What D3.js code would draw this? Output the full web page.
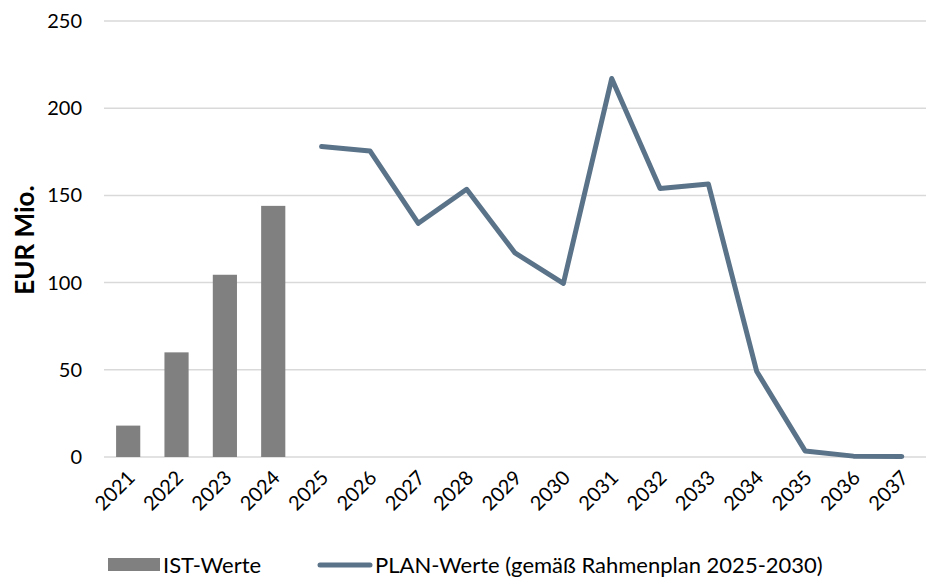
<!DOCTYPE html>
<html>
<head>
<meta charset="utf-8">
<script src="https://cdn.jsdelivr.net/npm/d3@7"></script>
<style>
  body { margin: 0; background: #fff; }
  svg { font-family: "Gill Sans", "Lato", sans-serif; }
</style>
</head>
<body>
<svg id="chart" width="933" height="579"></svg>
<script>
const years = ["2021","2022","2023","2024","2025","2026","2027","2028","2029","2030","2031","2032","2033","2034","2035","2036","2037"];
const istYears = ["2021","2022","2023","2024"];
const istValues = [18, 60, 104.5, 144];
const planYears = ["2025","2026","2027","2028","2029","2030","2031","2032","2033","2034","2035","2036","2037"];
const planValues = [178, 175.5, 134, 153.5, 117, 99.5, 217, 154, 156.5, 49, 3.5, 0.5, 0.3];
const yTicks = [0, 50, 100, 150, 200, 250];

const svg = d3.select("#chart");
const margin = { top: 21, right: 7, bottom: 122, left: 104 };
const width = 933 - margin.left - margin.right;
const height = 579 - margin.top - margin.bottom;

const g = svg.append("g").attr("transform", `translate(${margin.left},${margin.top})`);

const x = d3.scaleBand().domain(years).range([0, width]).paddingInner(0.5).paddingOuter(0.25);
const y = d3.scaleLinear().domain([0, 250]).range([height, 0]);

// gridlines
g.selectAll(".grid").data(yTicks).enter().append("line")
  .attr("x1", 0).attr("x2", width)
  .attr("y1", d => y(d)).attr("y2", d => y(d))
  .attr("stroke", "#d9d9d9").attr("stroke-width", 1.5);

// y axis labels
g.selectAll(".ylab").data(yTicks).enter().append("text")
  .attr("x", -22).attr("y", d => y(d)).attr("dy", "0.35em")
  .attr("text-anchor", "end").attr("font-size", 20).attr("fill", "#000")
  .text(d => d);

// x axis labels
g.selectAll(".xlab").data(years).enter().append("text")
  .attr("transform", d => `translate(${x(d) + x.bandwidth() / 2 + 8},${height + 22}) rotate(-45)`)
  .attr("text-anchor", "end").attr("font-size", 20).attr("fill", "#000")
  .text(d => d);

// bars
g.selectAll(".bar").data(istYears).enter().append("rect")
  .attr("x", d => x(d)).attr("width", x.bandwidth())
  .attr("y", (d, i) => y(istValues[i]))
  .attr("height", (d, i) => height - y(istValues[i]))
  .attr("fill", "#808080");

// line
const line = d3.line()
  .x((d, i) => x(planYears[i]) + x.bandwidth() / 2)
  .y(d => y(d));
g.append("path").datum(planValues)
  .attr("d", line).attr("fill", "none")
  .attr("stroke", "#5a7389").attr("stroke-width", 5)
  .attr("stroke-linejoin", "round").attr("stroke-linecap", "round");

// y title
svg.append("text")
  .attr("transform", `translate(34,240) rotate(-90)`)
  .attr("text-anchor", "middle").attr("font-size", 26).attr("font-weight", "bold")
  .text("EUR Mio.");

// legend
const ly = 565;
svg.append("rect").attr("x", 108).attr("y", ly - 7).attr("width", 52).attr("height", 13).attr("fill", "#808080");
svg.append("text").attr("x", 163).attr("y", ly).attr("dy", "0.35em").attr("font-size", 22).text("IST-Werte");
svg.append("line").attr("x1", 320).attr("x2", 370).attr("y1", ly).attr("y2", ly)
  .attr("stroke", "#5a7389").attr("stroke-width", 5).attr("stroke-linecap", "round");
svg.append("text").attr("x", 375).attr("y", ly).attr("dy", "0.35em").attr("font-size", 22)
  .text("PLAN-Werte (gemäß Rahmenplan 2025-2030)");
</script>
</body>
</html>
